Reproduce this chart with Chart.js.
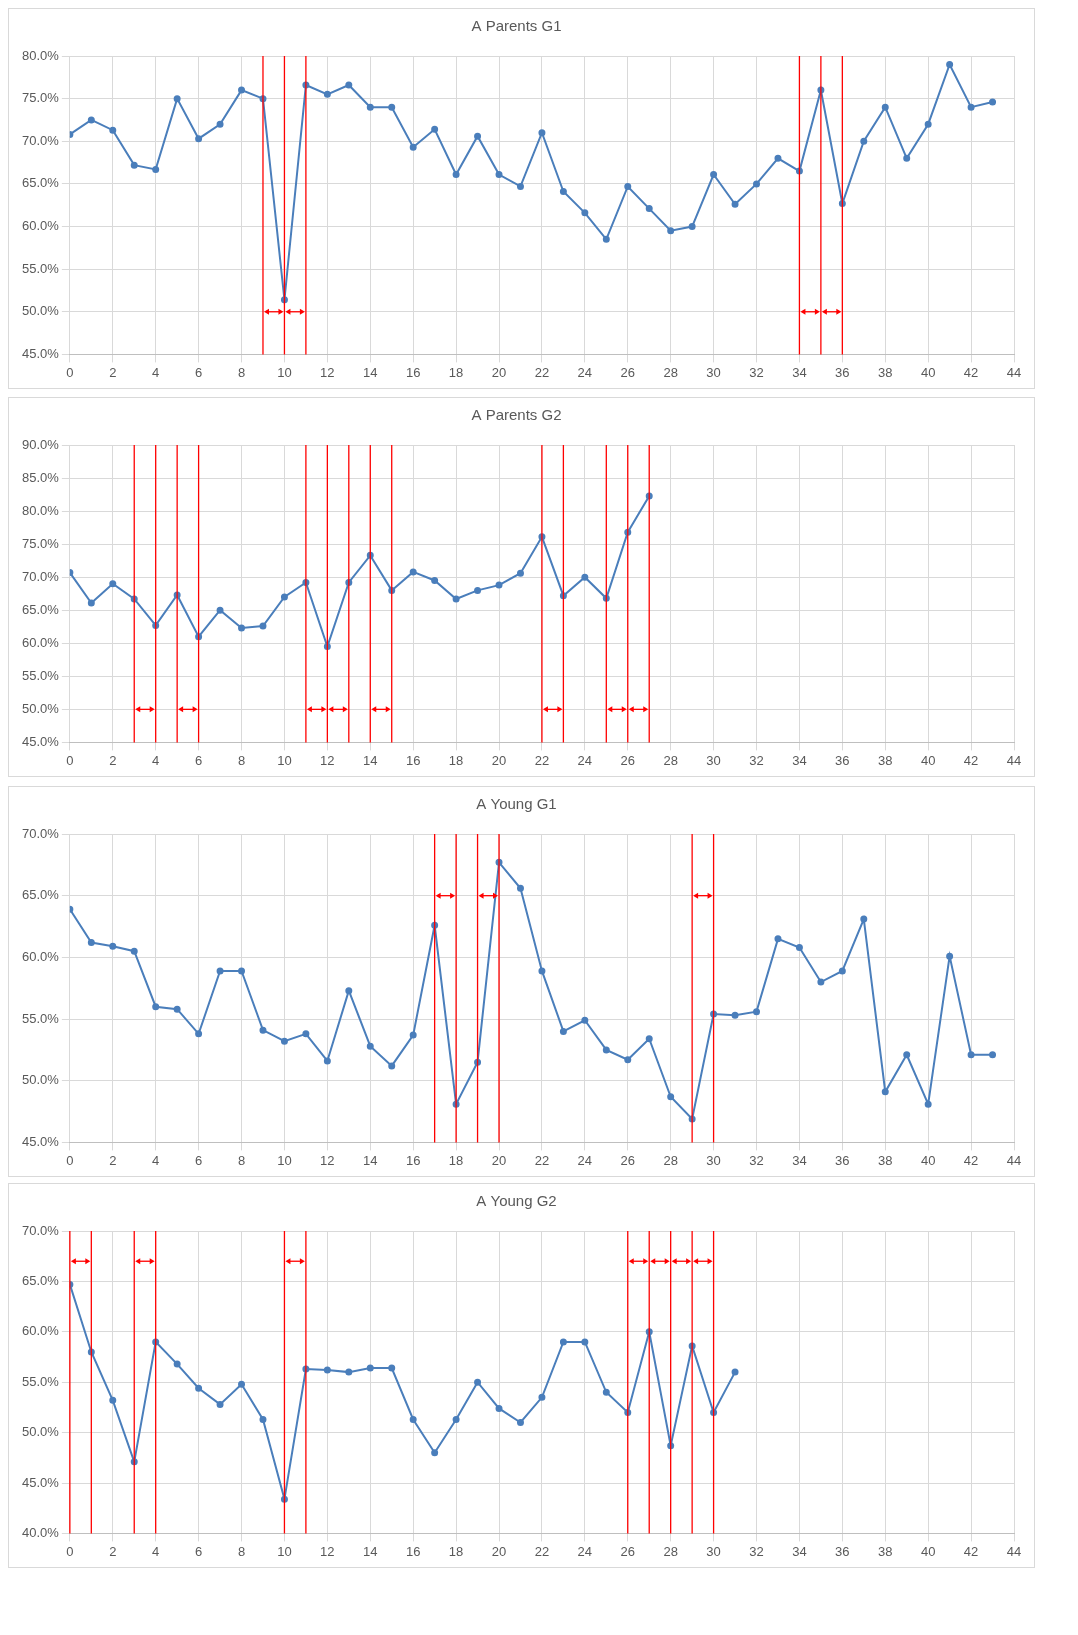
<!DOCTYPE html><html><head><meta charset="utf-8">
<script src="https://cdn.jsdelivr.net/npm/chart.js@4"></script>
<style>body{margin:0;background:#fff;font-family:"Liberation Sans",Arial}
.p{position:absolute;left:8px;width:1025px;border:1px solid #d9d9d9;background:#fff}
</style></head><body>
<div class="p" style="top:8px;height:379px"><canvas id="c1"></canvas></div>
<div class="p" style="top:397px;height:378px"><canvas id="c2"></canvas></div>
<div class="p" style="top:786px;height:389px"><canvas id="c3"></canvas></div>
<div class="p" style="top:1183px;height:383px"><canvas id="c4"></canvas></div>
<script>
const titles=["A Parents G1","A Parents G2","A Young G1","A Young G2"];
const pg1=[70.8,72.5,71.3,67.2,66.7,75.0,70.3,72.0,76.0,75.0,51.4,76.6,75.5,76.6,74.0,74.0,69.3,71.4,66.1,70.6,66.1,64.7,71.0,64.1,61.6,58.5,64.7,62.1,59.5,60.0,66.1,62.6,65.0,68.0,66.5,76.0,62.7,70.0,74.0,68.0,72.0,79.0,74.0,74.6];
const pg2=[70.7,66.1,69.0,66.7,62.7,67.3,61.0,65.0,62.3,62.6,67.0,69.2,59.5,69.2,73.3,68.0,70.8,69.5,66.7,68.0,68.8,70.6,76.1,67.2,70.0,66.8,76.8,82.3];
const yg1=[63.9,61.2,60.9,60.5,56.0,55.8,53.8,58.9,58.9,54.1,53.2,53.8,51.6,57.3,52.8,51.2,53.7,62.6,48.1,51.5,67.7,65.6,58.9,54.0,54.9,52.5,51.7,53.4,48.7,46.9,55.4,55.3,55.6,61.5,60.8,58.0,58.9,63.1,49.1,52.1,48.1,60.1,52.1,52.1];
const yg2=[64.7,58.0,53.2,47.1,59.0,56.8,54.4,52.8,54.8,51.3,43.4,56.3,56.2,56.0,56.4,56.4,51.3,48.0,51.3,55.0,52.4,51.0,53.5,59.0,59.0,54.0,52.0,60.0,48.7,58.6,52.0,56.0];
const series=[pg1,pg2,yg1,yg2];
const yMin=[45,45,45,40], yMax=[80,90,70,70];
const redLines=[[9,10,11,34,35,36],[3,4,5,6,11,12,13,14,15,22,23,25,26,27],[17,18,19,20,29,30],[0,1,3,4,10,11,26,27,28,29,30]];
const arrows=[[[9,10],[10,11],[34,35],[35,36]],[[3,4],[5,6],[11,12],[12,13],[14,15],[22,23],[25,26],[26,27]],[[17,18],[19,20],[29,30]],[[0,1],[3,4],[10,11],[26,27],[27,28],[28,29],[29,30]]];
const arrowY=[50,50,65,67];
function head(ctx,x,y,d){ctx.beginPath();ctx.moveTo(x,y);ctx.lineTo(x-d*5,y-3);ctx.lineTo(x-d*5,y+3);ctx.closePath();ctx.fill();}
const redPlugin={id:'red',afterDatasetsDraw(ch,a,o){const i=ch.options.plugins.red.idx;const x=ch.scales.x,y=ch.scales.y,ctx=ch.ctx;
ctx.save();ctx.strokeStyle='#ff0000';ctx.fillStyle='#ff0000';ctx.lineWidth=1.3;
redLines[i].forEach(v=>{const px=x.getPixelForValue(v);ctx.beginPath();ctx.moveTo(px,y.top);ctx.lineTo(px,y.bottom);ctx.stroke();});
const py=y.getPixelForValue(arrowY[i]);
arrows[i].forEach(([a,b])=>{const x1=x.getPixelForValue(a),x2=x.getPixelForValue(b);ctx.beginPath();ctx.moveTo(x1+3,py);ctx.lineTo(x2-3,py);ctx.stroke();head(ctx,x1+1,py,-1);head(ctx,x2-1,py,1);});
ctx.restore();}};
const xTicks=[];for(let v=0;v<=44;v+=2)xTicks.push(v);
series.forEach((s,i)=>{
new Chart(document.getElementById('c'+(i+1)),{type:'line',
data:{datasets:[{data:s.map((v,k)=>({x:k,y:v})),borderColor:'#4a7ebb',backgroundColor:'#4a7ebb',borderWidth:2,pointRadius:2.5,tension:0}]},
options:{responsive:true,maintainAspectRatio:false,animation:false,
layout:{padding:{left:10,right:20,top:0,bottom:4}},
plugins:{legend:{display:false},red:{idx:i},title:{display:true,text:titles[i],color:'#595959',font:{size:15,weight:'normal',family:'Liberation Sans'},padding:{top:9,bottom:20}}},
scales:{x:{type:'linear',min:0,max:44,afterBuildTicks:ax=>{ax.ticks=xTicks.map(v=>({value:v}));},grid:{color:'#d9d9d9'},border:{color:'#bfbfbf'},ticks:{color:'#595959',font:{size:13},maxRotation:0}},
y:{min:yMin[i],max:yMax[i],ticks:{stepSize:5,color:'#595959',font:{size:13},callback:v=>v.toFixed(1)+'%'},grid:{color:'#d9d9d9'},border:{display:false}}}},
plugins:[redPlugin]});
});
</script></body></html>
